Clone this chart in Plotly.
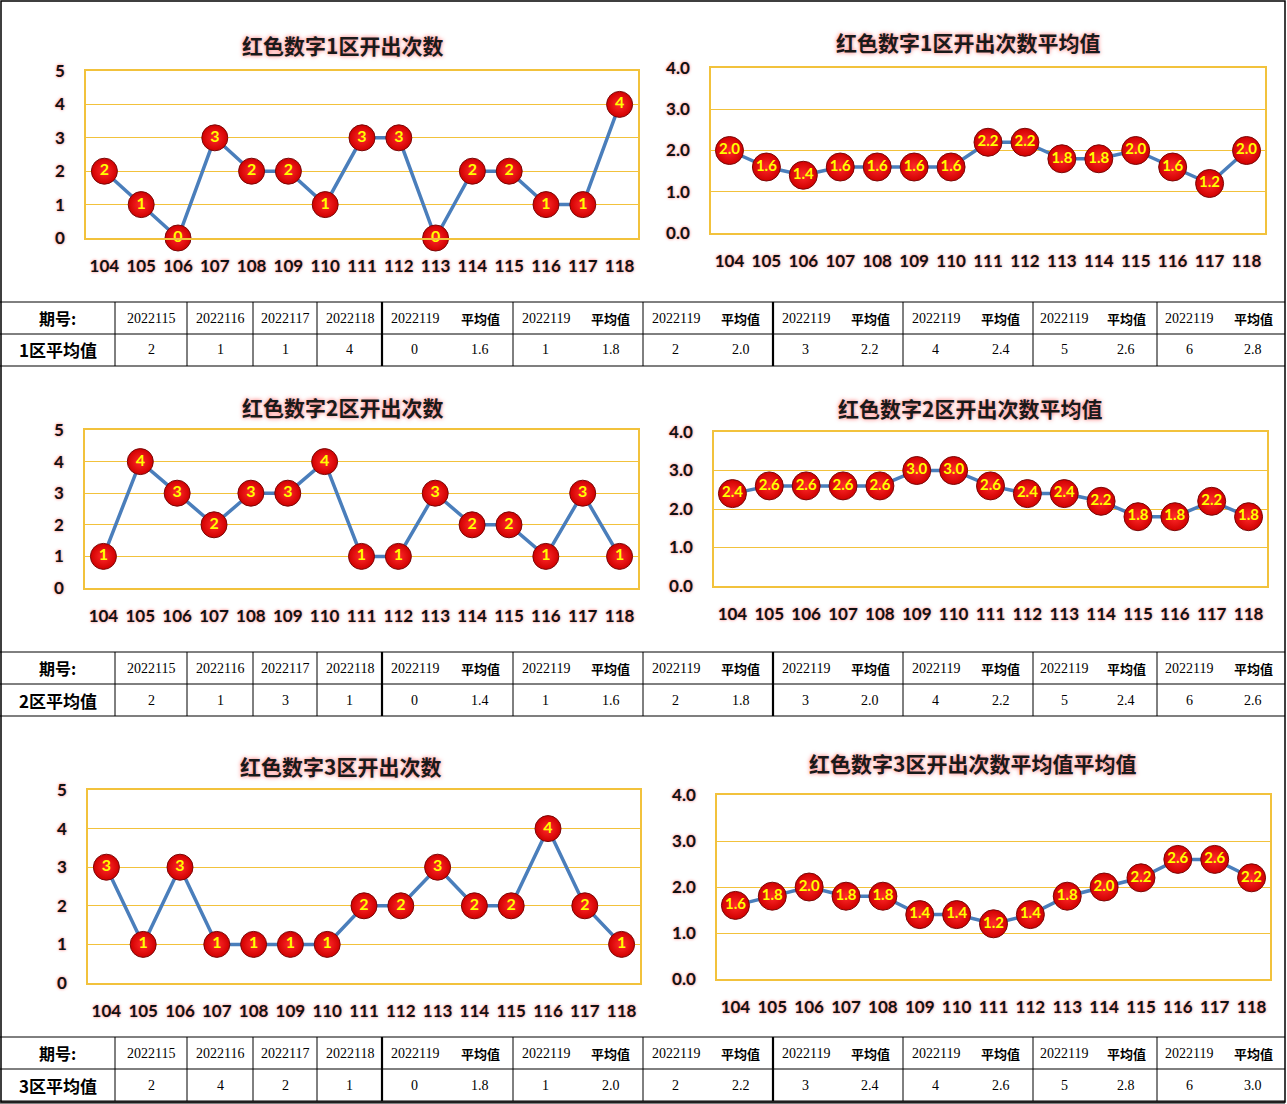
import plotly.graph_objects as go

W, H = 1287, 1104

# ---------------- data ----------------
periods = ['104', '105', '106', '107', '108', '109', '110', '111', '112',
           '113', '114', '115', '116', '117', '118']

zone1_counts = [2, 1, 0, 3, 2, 2, 1, 3, 3, 0, 2, 2, 1, 1, 4]
zone1_avgs = [2.0, 1.6, 1.4, 1.6, 1.6, 1.6, 1.6, 2.2, 2.2, 1.8, 1.8, 2.0, 1.6, 1.2, 2.0]
zone2_counts = [1, 4, 3, 2, 3, 3, 4, 1, 1, 3, 2, 2, 1, 3, 1]
zone2_avgs = [2.4, 2.6, 2.6, 2.6, 2.6, 3.0, 3.0, 2.6, 2.4, 2.4, 2.2, 1.8, 1.8, 2.2, 1.8]
zone3_counts = [3, 1, 3, 1, 1, 1, 1, 2, 2, 3, 2, 2, 4, 2, 1]
zone3_avgs = [1.6, 1.8, 2.0, 1.8, 1.8, 1.4, 1.4, 1.2, 1.4, 1.8, 2.0, 2.2, 2.6, 2.6, 2.2]

chart_titles = ['红色数字1区开出次数', '红色数字1区开出次数平均值',
                '红色数字2区开出次数', '红色数字2区开出次数平均值',
                '红色数字3区开出次数', '红色数字3区开出次数平均值平均值']

table_head_label = '期号:'
table_head_periods = ['2022115', '2022116', '2022117', '2022118']
table_pair_head = ['2022119', '平均值']

table_row_labels = ['1区平均值', '2区平均值', '3区平均值']
table1_recent = [2, 1, 1, 4]
table2_recent = [2, 1, 3, 1]
table3_recent = [2, 4, 2, 1]
next_counts = [0, 1, 2, 3, 4, 5, 6]
table1_next_avg = [1.6, 1.8, 2.0, 2.2, 2.4, 2.6, 2.8]
table2_next_avg = [1.4, 1.6, 1.8, 2.0, 2.2, 2.4, 2.6]
table3_next_avg = [1.8, 2.0, 2.2, 2.4, 2.6, 2.8, 3.0]

# ---------------- layout geometry (pixels) ----------------
def px(x):
    return x / W

def py(y):
    return 1 - y / H

charts = [
    dict(values=zone1_counts, x0=86, x1=638, yt=71, yb=238, ymax=5, fmt='int', tpos=(342, 45), msize=26),
    dict(values=zone1_avgs, x0=711, x1=1265, yt=68, yb=233, ymax=4, fmt='f1', tpos=(968, 42), msize=28),
    dict(values=zone2_counts, x0=85, x1=638, yt=430, yb=588, ymax=5, fmt='int', tpos=(342, 407), msize=26),
    dict(values=zone2_avgs, x0=714, x1=1267, yt=432, yb=586, ymax=4, fmt='f1', tpos=(970, 408), msize=28),
    dict(values=zone3_counts, x0=88, x1=640, yt=790, yb=983, ymax=5, fmt='int', tpos=(340, 766), msize=26),
    dict(values=zone3_avgs, x0=717, x1=1270, yt=795, yb=979, ymax=4, fmt='f1', tpos=(972, 763), msize=28),
]

GOLD = '#F2C23C'
GLOW = '0px 0px 3px #ff7070'
tick_font = dict(family='Lato', size=17, color='#111111', weight='bold', shadow=GLOW)

fig = go.Figure()
layout_axes = {}
annotations = []
shapes = []

for i, c in enumerate(charts, start=1):
    xa = 'x' if i == 1 else f'x{i}'
    ya = 'y' if i == 1 else f'y{i}'
    if c['fmt'] == 'int':
        labels = [str(v) for v in c['values']]
    else:
        labels = [f'{v:.1f}' for v in c['values']]
    fig.add_trace(go.Scatter(
        x=periods, y=c['values'], xaxis=xa, yaxis=ya,
        mode='lines+markers+text', text=labels, textposition='middle center',
        textfont=dict(family='Lato', size=16 if c['fmt'] == 'int' else 15,
                      color='#FFFF00', weight='bold'),
        line=dict(color='#4A7EBB', width=3.5),
        marker=dict(size=c['msize'], color='#D00000',
                    gradient=dict(type='radial', color='#FF2A2A'),
                    line=dict(color='#7A0808', width=1)),
        cliponaxis=False, showlegend=False, hoverinfo='skip'))
    xkey = 'xaxis' if i == 1 else f'xaxis{i}'
    ykey = 'yaxis' if i == 1 else f'yaxis{i}'
    layout_axes[xkey] = dict(
        domain=[px(c['x0']), px(c['x1'])], anchor=ya, type='category',
        range=[-0.5, 14.5], showgrid=False, showline=True, linecolor=GOLD,
        linewidth=1.5, mirror=True, ticks='', tickfont=tick_font,
        ticklabelstandoff=12, fixedrange=True, automargin=False)
    layout_axes[ykey] = dict(
        domain=[py(c['yb']), py(c['yt'])], anchor=xa, range=[0, c['ymax']],
        dtick=1, tickformat='d' if c['fmt'] == 'int' else '.1f',
        showgrid=True, gridcolor=GOLD, gridwidth=1.2, zeroline=False,
        showline=True, linecolor=GOLD, linewidth=1.5, mirror=True, ticks='',
        tickfont=tick_font, ticklabelstandoff=16, fixedrange=True,
        automargin=False)
    annotations.append(dict(
        text=chart_titles[i - 1], x=px(c['tpos'][0]), y=py(c['tpos'][1]),
        xref='paper', yref='paper', xanchor='center', yanchor='middle',
        showarrow=False,
        font=dict(family='Noto Sans CJK SC', size=21, color='#1a1a1a',
                  weight='bold', shadow='0px 0px 4px #ff6a6a')))

# ---------------- tables ----------------
col_edges = [0, 115, 187, 253, 317, 382, 513, 643, 773, 903, 1033, 1157, 1285]
thick_edges = {382, 773}
table_rows = [(302, 334, 366), (652, 684, 716), (1037, 1069, 1101)]
recents = [table1_recent, table2_recent, table3_recent]
next_avgs = [table1_next_avg, table2_next_avg, table3_next_avg]

serif = 'Liberation Serif'


def line(x0, y0, x1, y1, w=1, color='#000000'):
    shapes.append(dict(type='line', xref='paper', yref='paper',
                       x0=px(x0), y0=py(y0), x1=px(x1), y1=py(y1),
                       line=dict(color=color, width=w)))


def text(t, x, y, size=14, family=serif, weight='normal', color='#000000'):
    annotations.append(dict(text=t, x=px(x), y=py(y), xref='paper', yref='paper',
                            xanchor='center', yanchor='middle', showarrow=False,
                            font=dict(family=family, size=size, color=color,
                                      weight=weight)))


for k, (ytop, ymid, ybot) in enumerate(table_rows):
    line(0, ytop, 1285, ytop, 1)
    line(0, ymid, 1285, ymid, 1)
    line(0, ybot, 1285, ybot, 1.2)
    for xe in col_edges[1:-1]:
        line(xe, ytop, xe, ybot, 2.2 if xe in thick_edges else 1)
    hy = (ytop + ymid) / 2
    dy = (ymid + ybot) / 2
    text(table_head_label, (col_edges[0] + col_edges[1]) / 2, hy, size=16,
         family='Noto Sans CJK SC', weight='bold')
    text(table_row_labels[k], (col_edges[0] + col_edges[1]) / 2, dy, size=17,
         family='Noto Sans CJK SC', weight='bold')
    for j in range(4):
        cx = (col_edges[1 + j] + col_edges[2 + j]) / 2
        text(table_head_periods[j], cx, hy, size=14)
        text(str(recents[k][j]), cx, dy, size=14)
    for j in range(7):
        a, b = col_edges[5 + j], col_edges[6 + j]
        m = (a + b) / 2
        c1, c2 = (a + m) / 2, (m + b) / 2
        text(table_pair_head[0], c1, hy, size=14)
        text(table_pair_head[1], c2, hy, size=13, family='Noto Sans CJK SC', weight='bold')
        text(str(next_counts[j]), c1, dy, size=14)
        text(f'{next_avgs[k][j]:.1f}', c2, dy, size=14)

line(0, 1103, 1285, 1103, 1)
shapes.append(dict(type='rect', xref='paper', yref='paper',
                   x0=px(1), y0=py(1102), x1=px(1285), y1=py(1),
                   line=dict(color='#000000', width=1.5)))

fig.update_layout(
    width=W, height=H, margin=dict(l=0, r=0, t=0, b=0, autoexpand=False),
    paper_bgcolor='white', plot_bgcolor='white',
    annotations=annotations, shapes=shapes, showlegend=False,
    **layout_axes)

fig.write_html('out.html', config=dict(displayModeBar=False),
               post_script="document.body.style.margin='0';document.body.style.overflow='hidden';")
